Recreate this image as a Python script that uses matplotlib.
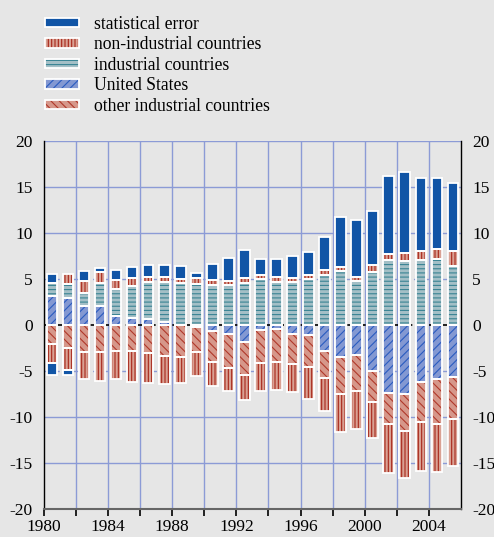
import numpy as np
import matplotlib
matplotlib.use("Agg")
import matplotlib.pyplot as plt
from matplotlib.patches import Patch

years = np.arange(1980, 2006)

# surplus side (stacked upward from 0)
us_pos = [3.1, 2.95, 2.1, 2.1, 1.0, 0.7, 0.6, 0.3, 0, 0, 0, 0, 0,
          0, 0, 0, 0, 0, 0, 0, 0, 0, 0, 0, 0, 0]
ind_pos = [1.4, 1.45, 1.4, 2.4, 2.85, 3.55, 4.1, 4.4, 4.5, 4.45, 4.35, 4.35, 4.6,
           5.0, 4.65, 4.65, 5.0, 5.4, 5.9, 4.75, 5.7, 7.0, 6.9, 7.0, 7.2, 6.35]
nonind_pos = [0, 1.15, 1.3, 1.25, 1.05, 0.85, 0.55, 0.5, 0.5, 0.6, 0.5, 0.45, 0.45,
              0.45, 0.6, 0.4, 0.45, 0.55, 0.4, 0.4, 0.75, 0.65, 0.95, 1.0, 1.0, 1.7]
stat_pos = [1.0, 0, 1.1, 0.4, 1.05, 1.15, 1.2, 1.35, 1.4, 0.6, 1.8, 2.45, 3.1,
            1.75, 1.85, 2.4, 2.5, 3.6, 5.45, 6.25, 5.9, 8.5, 8.8, 7.9, 7.8, 7.4]

# deficit side (stacked downward from 0)
us_neg = [0, 0, 0, 0, 0, 0, 0, 0, 0, -0.25, -0.7, -1.0, -1.9,
          -0.55, -0.45, -1.0, -1.15, -2.8, -3.5, -3.3, -5.0, -7.4, -7.55, -6.25, -5.9, -5.7]
other_neg = [-2.1, -2.5, -2.9, -2.9, -2.8, -2.8, -3.1, -3.35, -3.5, -2.65, -3.3, -3.7, -3.5,
             -3.55, -3.55, -3.25, -3.45, -2.95, -4.05, -3.85, -3.4, -3.4, -4.0, -4.3, -4.9, -4.5]
nonind_neg = [-2.0, -2.35, -3.0, -3.15, -3.1, -3.4, -3.2, -3.1, -2.8, -2.65, -2.65, -2.45, -2.75,
              -3.05, -3.05, -3.05, -3.4, -3.65, -4.1, -4.15, -3.9, -5.3, -5.05, -5.3, -5.2, -5.15]
stat_neg = [-1.3, -0.55, 0, 0, 0, 0, 0, 0, 0, 0, 0, 0, 0,
            0, 0, 0, 0, 0, 0, 0, 0, 0, 0, 0, 0, 0]

bg = "#e6e6e6"
grid_c = "#8c9bd6"
styles = {
    "stat": ("#1155a6", "", "#1155a6"),
    "nonind": ("#d9a193", "|||||", "#a8281c"),
    "ind": ("#a3bfc6", "----", "#3a8494"),
    "us": ("#8398d2", "////", "#2a5cc0"),
    "other": ("#d6978a", "\\\\\\\\", "#b0382a"),
}

plt.rcParams["font.family"] = ["Liberation Serif", "DejaVu Serif"]
plt.rcParams["hatch.linewidth"] = 0.8
plt.rcParams["axes.unicode_minus"] = False

fig = plt.figure(figsize=(4.94, 5.37), dpi=100, facecolor=bg)
ax = fig.add_axes([0.089, 0.052, 0.844, 0.686], facecolor=bg)

x = years + 0.5
w = 0.66


def layer(vals, bottom, key):
    face, hatch, hc = styles[key]
    vals = np.asarray(vals, dtype=float)
    m = vals != 0
    ax.bar(x[m], vals[m], w, bottom=bottom[m], color=face, edgecolor=hc,
           hatch=hatch, linewidth=0, zorder=3)
    ax.bar(x[m], vals[m], w, bottom=bottom[m], fill=False, edgecolor="white",
           linewidth=1.3, zorder=4)
    return bottom + vals


b = np.zeros(len(years))
for vals, key in [(us_pos, "us"), (ind_pos, "ind"), (nonind_pos, "nonind"), (stat_pos, "stat")]:
    b = layer(vals, b, key)
b = np.zeros(len(years))
for vals, key in [(us_neg, "us"), (other_neg, "other"), (nonind_neg, "nonind"), (stat_neg, "stat")]:
    b = layer(vals, b, key)

# grid
for v in [-15, -10, 10, 15, 20]:
    ax.axhline(v, color=grid_c, lw=1.0, zorder=1)
for v in [-5, 5]:
    ax.axhline(v, color=grid_c, lw=1.0, ls=(0, (4, 3)), zorder=1)
for yr in range(1982, 2006, 2):
    ax.axvline(yr, color=grid_c, lw=1.0, zorder=1)
ax.axhline(0, color="black", lw=1.2, ls=(0, (4, 3)), zorder=2)

ax.set_xlim(1980, 2006)
ax.set_ylim(-20, 20)
ax.set_yticks(range(-20, 21, 5))
ax.set_xticks(range(1980, 2006, 2))
ax.set_xticklabels([str(y) if y % 4 == 0 else "" for y in range(1980, 2006, 2)])
ax.tick_params(axis="y", length=0, labelsize=12.5, labelright=True, pad=8)
ax.tick_params(axis="x", length=5, width=1.2, labelsize=12.5, pad=2, color="black")

for s in ["left", "right"]:
    ax.spines[s].set_color("black")
    ax.spines[s].set_linewidth(1.0)
ax.spines["top"].set_visible(False)
ax.spines["bottom"].set_color("#666666")
ax.spines["bottom"].set_linewidth(1.5)

# legend
labels = ["statistical error", "non-industrial countries", "industrial countries",
          "United States", "other industrial countries"]
handles = []
for key in ["stat", "nonind", "ind", "us", "other"]:
    face, hatch, hc = styles[key]
    handles.append((Patch(facecolor=face, edgecolor=hc, hatch=hatch, linewidth=0),
                    Patch(fill=False, edgecolor="white", linewidth=1.3)))
fig.legend(handles, labels, loc="upper left", bbox_to_anchor=(0.066, 0.994),
           frameon=False, fontsize=12.7, handlelength=1.95, handleheight=0.45,
           labelspacing=0.2, handletextpad=0.85, borderaxespad=0.3)

fig.savefig("out.png", dpi=100, facecolor=bg)
